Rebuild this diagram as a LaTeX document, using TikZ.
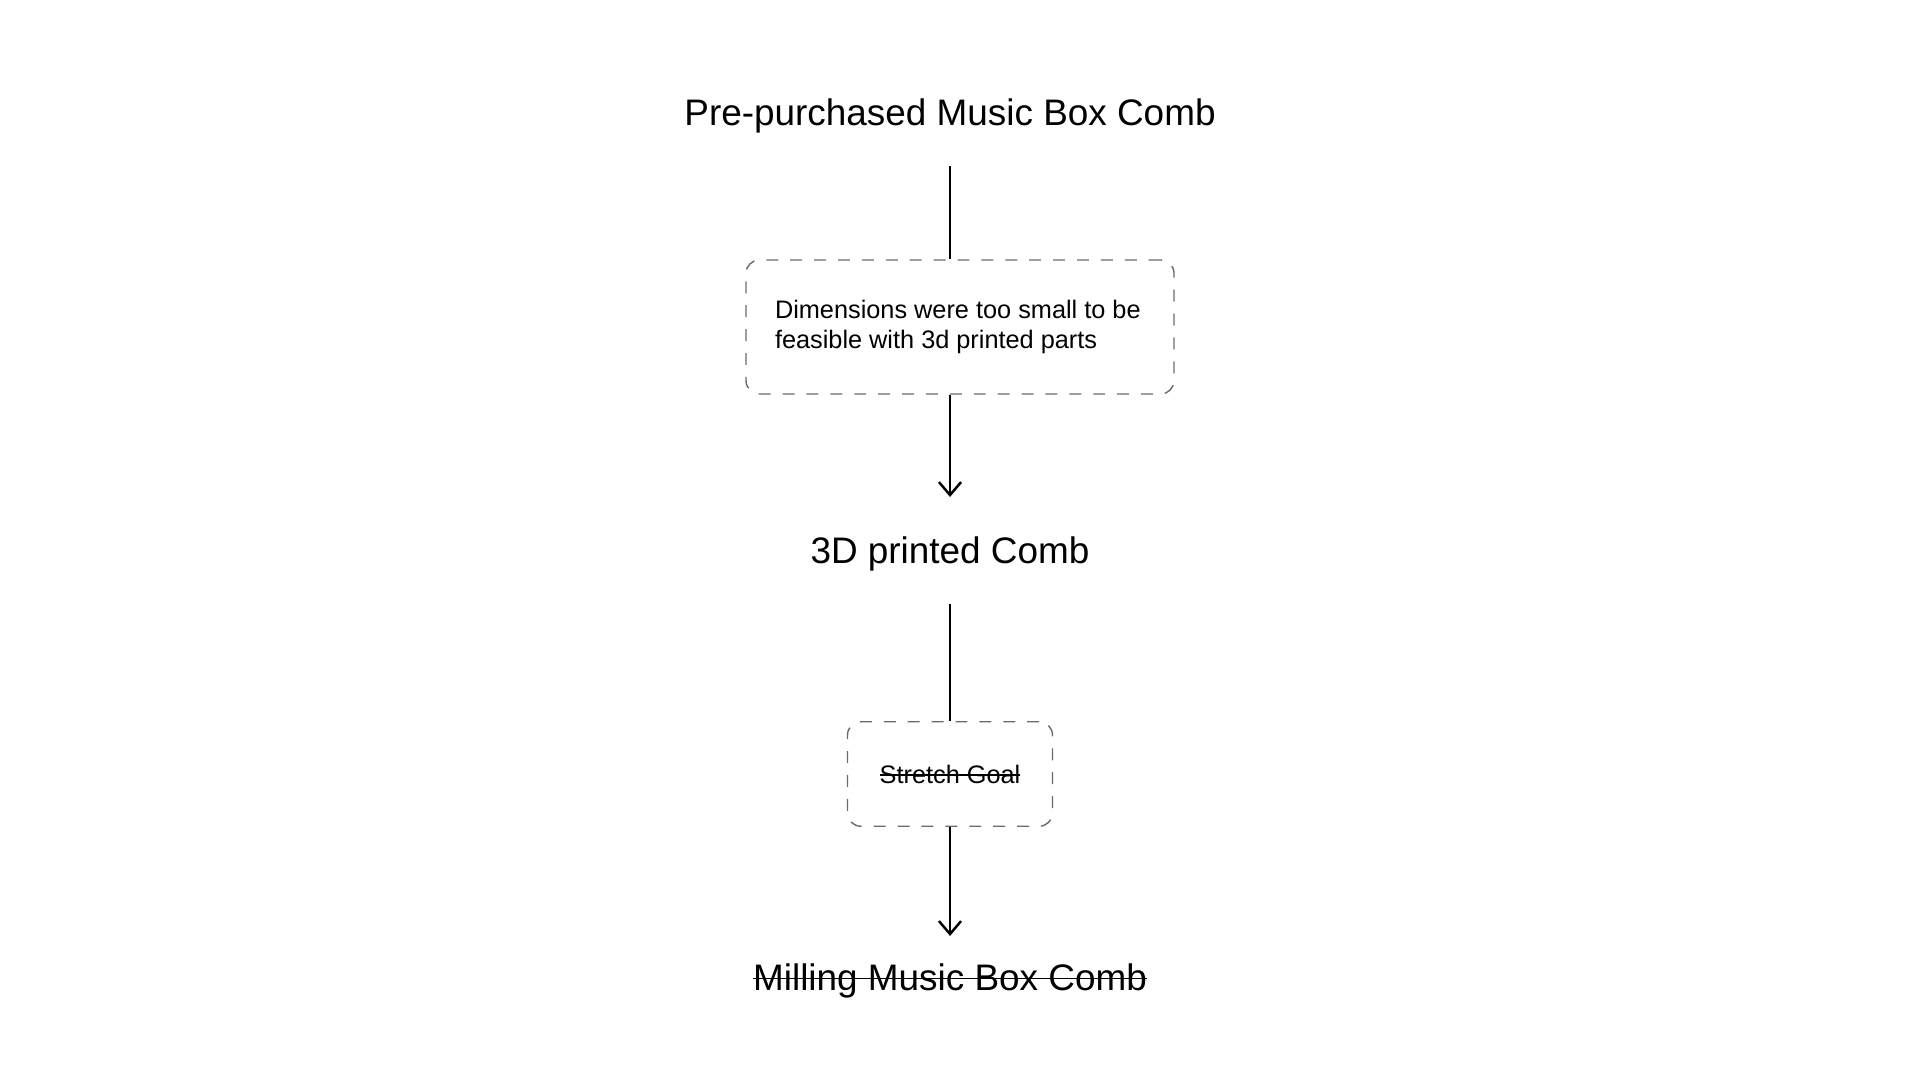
\documentclass[tikz,border=0pt]{standalone}
\usepackage{fontspec}
\setmainfont{Liberation Sans}
\usepackage{xcolor}
\usetikzlibrary{arrows.meta,positioning}
\definecolor{dashgray}{HTML}{6B6B6B}
\newcommand\crossout[1]{\setbox0\hbox{#1}\rlap{\rule[0.55ex]{\wd0}{0.5pt}}\box0}

\begin{document}
\begin{tikzpicture}
            \tikzstyle{every node}+=[inner sep=0pt]
            \tikzstyle{stage}=[anchor=base, font=\fontsize{10.5}{12.6}\selectfont]
            \tikzstyle{note}=[draw=dashgray, line width=0.4pt, dash pattern=on 3.4pt off 3.4pt, rounded corners=3.8pt, font=\fontsize{7.2}{8.55}\selectfont, align=left]
            \tikzstyle{link}=[black, line width=0.7pt]
            \tikzstyle{flow}=[link, -{Straight Barb[length=3.7pt,width=6.3pt]}]
            \useasboundingbox (0,0) rectangle (19.2,-10.8);
            \node [stage] (premade) at (9.5,-1.26) {Pre-purchased Music Box Comb};
            \node [note, minimum width=4.28cm, minimum height=1.34cm] (toosmall) at (9.6,-3.27) {\raisebox{-0.8pt}{\parbox{3.7cm}{Dimensions were too small to be\\feasible with 3d printed parts}}};
            \node [stage] (printed) at (9.5,-5.63) {3D printed Comb};
            \node [note, minimum width=2.05cm, minimum height=1.045cm] (stretch) at (9.5,-7.74) {\crossout{Stretch Goal}};
            \node [stage] (milling) at (9.5,-9.9) {\crossout{Milling Music Box Comb}};
            \draw [link, shorten <=0.32cm] (premade.south) -- (premade.south |- toosmall.north);
            \draw [flow, shorten >=0.386cm] (premade.south |- toosmall.south) -- (printed.north);
            \draw [link, shorten <=0.33cm] (printed.south) -- (stretch.north);
            \draw [flow, shorten >=0.266cm] (stretch.south) -- (milling.north);
\end{tikzpicture}
\end{document}
